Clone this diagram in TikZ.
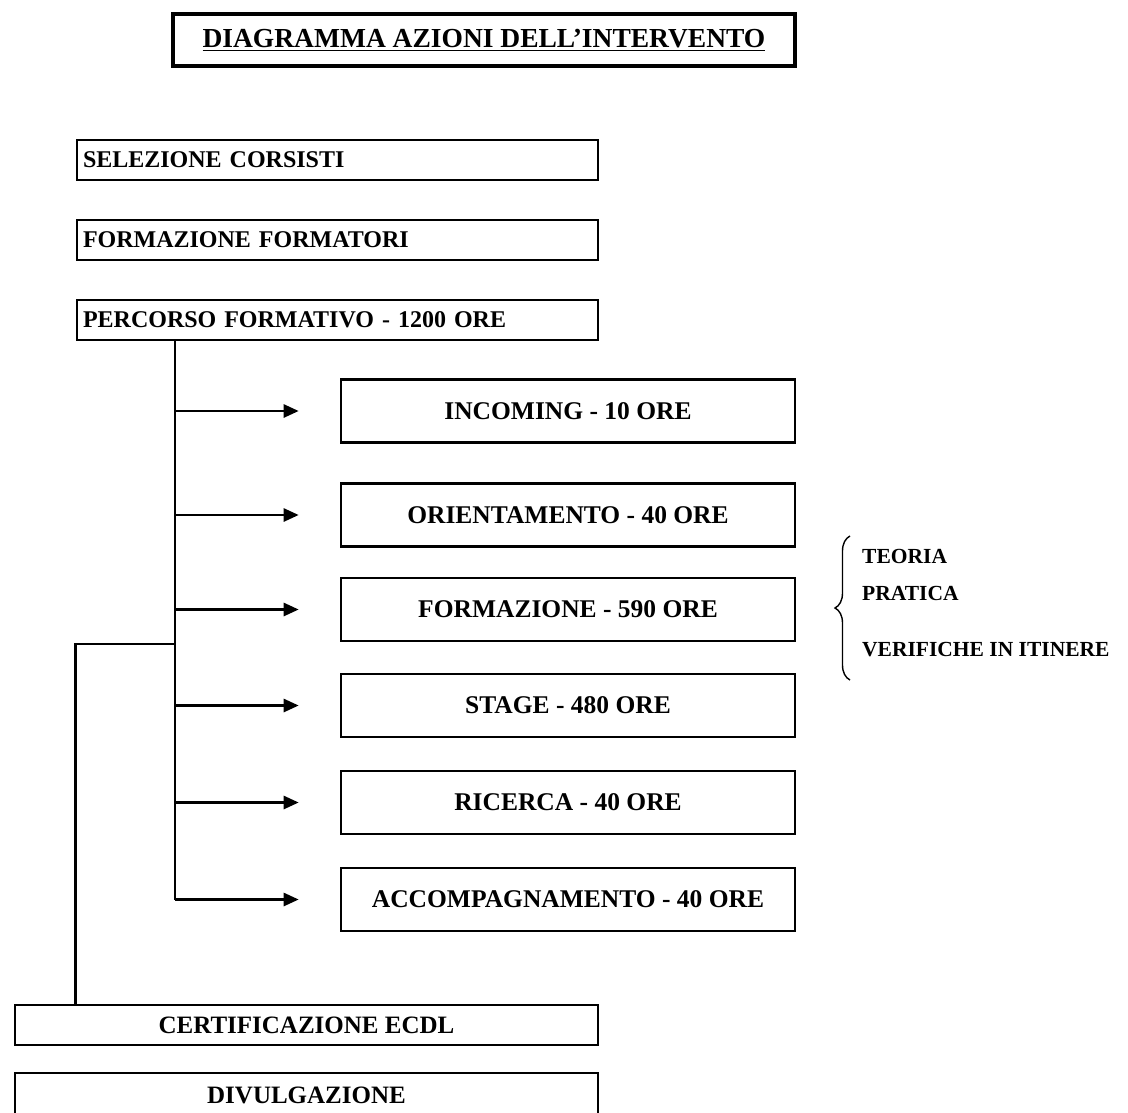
\documentclass[tikz,border=0pt]{standalone}
\usepackage{fontspec}
\setmainfont{Liberation Serif}
\usetikzlibrary{arrows.meta,decorations.pathreplacing}
\tikzset{
	box/.style={draw, line width=2.6pt, inner xsep=6pt, inner ysep=0pt, font=\fontsize{24}{28}\selectfont\bfseries},
	leftbox/.style={box, text width=509pt, align=left, minimum height=40pt},
	midbox/.style={box, minimum width=454pt, minimum height=63pt, font=\fontsize{25.5}{30}\selectfont\bfseries},
	wide/.style={box, minimum width=583pt, font=\fontsize{25}{30}\selectfont\bfseries},
	link/.style={line width=2.6pt},
	arr/.style={link, -{Triangle[length=15pt,width=13pt]}, shorten >=41pt},
	side/.style={anchor=west, inner sep=0pt, font=\fontsize{21.5}{26}\selectfont\bfseries}
}
\begin{document}
\begin{tikzpicture}[x=1pt, y=-1pt]
			%%%%% START %%%%%
			\clip (0, 0) rectangle (1128, 1112);
			\fill[white] (0, 0) rectangle (1128, 1112);
			
			\node[box, line width=3.6pt, minimum width=622pt, minimum height=52pt, font=\fontsize{27.5}{32}\selectfont\bfseries] (title) at (484, 40) {\underline{DIAGRAMMA AZIONI DELL'INTERVENTO}};
			
			\node[leftbox] (sel) at (337.5, 160) {SELEZIONE CORSISTI};
			\node[leftbox] (form) at (337.5, 240) {FORMAZIONE FORMATORI};
			\node[leftbox] (perc) at (337.5, 320) {PERCORSO FORMATIVO - 1200 ORE};
			
			\node[midbox] (inc) at (568, 411) {INCOMING - 10 ORE};
			\node[midbox] (ori) at (568, 515) {ORIENTAMENTO - 40 ORE};
			\node[midbox] (fmz) at (568, 609.5) {FORMAZIONE - 590 ORE};
			\node[midbox] (sta) at (568, 705.5) {STAGE - 480 ORE};
			\node[midbox] (ric) at (568, 802.5) {RICERCA - 40 ORE};
			\node[midbox] (acc) at (568, 899.5) {ACCOMPAGNAMENTO - 40 ORE};
			
			\node[wide, minimum height=40pt] (cert) at (306.5, 1025) {CERTIFICAZIONE ECDL};
			\node[wide, minimum height=44pt] (div) at (306.5, 1095) {DIVULGAZIONE};
			
			% trunk and arrows
			\coordinate (trk) at (175, 340);
			\draw[link] (perc.south -| trk) -- (acc.west -| trk);
			\foreach \b in {inc, ori, fmz, sta, ric, acc}
				\draw[arr] (\b.west -| trk) -- (\b.west);
			
			% back to certification
			\coordinate (join) at (175, 644);
			\draw[link] (cert.north -| sel.west) |- (join);
			
			% brace
			\coordinate (btop) at (850, 536);
			\coordinate (bbot) at (850, 680);
			\draw[line width=1.4pt, decorate, decoration={brace, amplitude=15pt}] (bbot) -- (btop);
			\node[side] (teo) at (862, 556) {TEORIA};
			\node[side] (pra) at (862, 593) {PRATICA};
			\node[side] (ver) at (862, 650) {VERIFICHE IN ITINERE};
			
			%%%%% END %%%%%
		\end{tikzpicture}
\end{document}
